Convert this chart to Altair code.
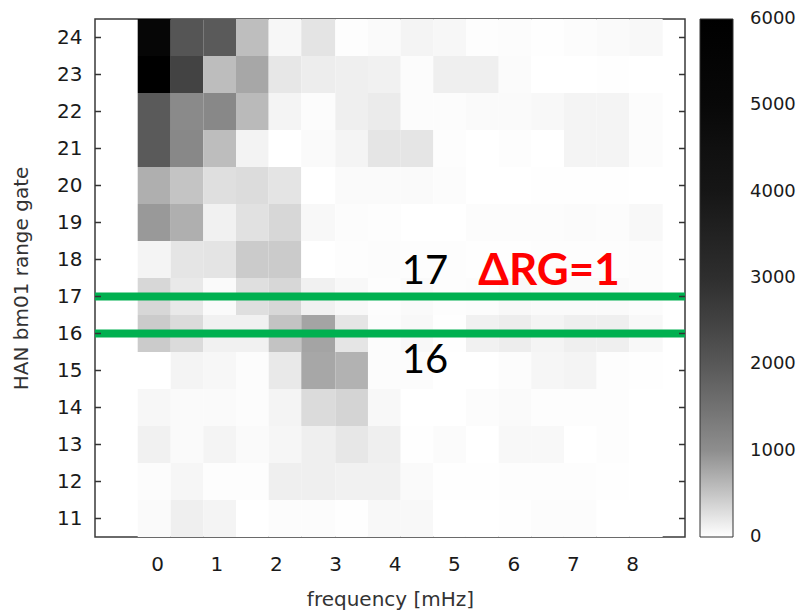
import altair as alt
import pandas as pd

# ---------------- data ----------------
range_gates = [24, 23, 22, 21, 20, 19, 18, 17, 16, 15, 14, 13, 12, 11]
# frequency bin edges [mHz]
freq_edges = [-0.325, 0.231, 0.779, 1.330, 1.880, 2.429, 3.002, 3.552, 4.103,
              4.652, 5.202, 5.753, 6.301, 6.852, 7.402, 7.951, 8.514]

rg24 = [5200, 2070, 1960, 560, 70, 230, 20, 45, 90, 70, 20, 25, 10, 25, 45, 60]
rg23 = [6000, 2480, 575, 770, 205, 150, 135, 115, 25, 135, 135, 35, 0, 0, 10, 0]
rg22 = [1960, 1075, 1110, 595, 90, 25, 135, 170, 25, 25, 45, 45, 60, 90, 90, 25]
rg21 = [1960, 1110, 575, 105, 0, 45, 90, 220, 220, 20, 0, 20, 0, 90, 90, 25]
rg20 = [700, 505, 275, 300, 230, 0, 45, 45, 45, 25, 0, 0, 10, 10, 10, 0]
rg19 = [895, 700, 115, 255, 345, 60, 25, 20, 0, 0, 25, 25, 25, 35, 25, 60]
rg18 = [90, 220, 230, 450, 450, 0, 20, 25, 20, 20, 10, 10, 20, 20, 20, 25]
rg17 = [345, 185, 45, 275, 345, 115, 60, 20, 45, 20, 25, 60, 45, 45, 45, 25]
rg16 = [450, 310, 115, 115, 520, 800, 220, 25, 60, 10, 115, 150, 95, 135, 135, 60]
rg15 = [0, 90, 70, 25, 185, 770, 665, 25, 25, 0, 0, 25, 80, 90, 20, 10]
rg14 = [70, 45, 45, 25, 90, 310, 365, 60, 0, 0, 25, 45, 20, 20, 20, 0]
rg13 = [115, 45, 90, 45, 80, 135, 205, 135, 10, 35, 0, 60, 55, 0, 20, 0]
rg12 = [25, 80, 20, 20, 135, 135, 115, 115, 45, 10, 10, 20, 20, 20, 10, 0]
rg11 = [45, 135, 90, 0, 25, 25, 10, 60, 60, 0, 0, 10, 25, 25, 0, 0]

rows = [rg24, rg23, rg22, rg21, rg20, rg19, rg18, rg17, rg16, rg15, rg14, rg13, rg12, rg11]

colorbar_values = [0, 1000, 2000, 3000, 4000, 5000, 6000]
colorbar_grays = ["#ffffff", "#8e8e8e", "#585858", "#2e2e2e", "#161616", "#080808", "#000000"]

x_ticks = [0, 1, 2, 3, 4, 5, 6, 7, 8]
marked_gates = [16, 17]

ann_black_text = ["17", "16"]
ann_black_freq = [4.12, 4.12]
ann_black_rg = [17.35, 14.93]
ann_red_text = ["\u0394RG=1"]
ann_red_freq = [5.41]
ann_red_rg = [17.30]

# ---------------- tables ----------------
recs = []
for rg, vals in zip(range_gates, rows):
    for k, v in enumerate(vals):
        recs.append({"f0": freq_edges[k], "f1": freq_edges[k + 1],
                     "g0": rg - 0.5, "g1": rg + 0.5, "power": v})
df = pd.DataFrame(recs)

W, H = 590, 518
XT = "frequency [mHz]"
YT = "HAN bm01 range gate"
xs = alt.Scale(domain=[-1.044, 8.89], nice=False, zero=False)
ys = alt.Scale(domain=[10.5, 24.5], nice=False, zero=False)
cs = alt.Scale(domain=colorbar_values, range=colorbar_grays, clamp=True)
cbs = alt.Scale(domain=[colorbar_values[0], colorbar_values[-1]], nice=False, zero=False)

FONT = "DejaVu Sans"
CB_X = W + 15      # colour bar left edge (px in plot coords)
CB_T = 33          # colour bar thickness

xaxis = alt.Axis(values=x_ticks, format="d", title=XT, ticks=False, domain=False,
                 grid=False, labelPadding=17, titleX=W / 2, titleY=68, titleAlign="center",
                 titleBaseline="alphabetic")
yaxis = alt.Axis(values=range_gates, format="d", title=YT, ticks=False,
                 domain=False, grid=False, labelPadding=13, titleX=-74, titleY=H / 2,
                 titleAlign="center", titleBaseline="middle", titleAngle=270)

heat = alt.Chart(df).mark_rect().encode(
    x=alt.X("f0:Q", scale=xs, axis=xaxis, title=XT),
    x2="f1:Q",
    y=alt.Y("g0:Q", scale=ys, axis=yaxis, title=YT),
    y2="g1:Q",
    fill=alt.Fill("power:Q", scale=cs, legend=alt.Legend(
        orient="none", legendX=CB_X, legendY=0, direction="vertical",
        gradientLength=H, gradientThickness=CB_T, values=[], title=None,
        gradientStrokeColor="#333333", gradientStrokeWidth=1)),
)

gdf = pd.DataFrame({"rg": marked_gates})
green = alt.Chart(gdf).mark_rule(color="#00B050", strokeWidth=8).encode(
    y=alt.Y("rg:Q", scale=ys, axis=None), x=alt.value(0), x2=alt.value(W))

tdf = pd.DataFrame({"rg": range_gates})
ticks_l = alt.Chart(tdf).mark_rule(color="#333333", strokeWidth=1.5).encode(
    y=alt.Y("rg:Q", scale=ys, axis=None), x=alt.value(0), x2=alt.value(6))
ticks_r = alt.Chart(tdf).mark_rule(color="#333333", strokeWidth=1.5).encode(
    y=alt.Y("rg:Q", scale=ys, axis=None), x=alt.value(W - 6), x2=alt.value(W))

bdf = pd.DataFrame({"t": ann_black_text, "f": ann_black_freq, "rg": ann_black_rg})
txt_black = alt.Chart(bdf).mark_text(
    align="left", baseline="alphabetic", font="Lato", fontSize=40, color="#000000"
).encode(x=alt.X("f:Q", scale=xs, title=XT), y=alt.Y("rg:Q", scale=ys, axis=None),
         text="t:N")

rdf = pd.DataFrame({"t": ann_red_text, "f": ann_red_freq, "rg": ann_red_rg})
txt_red = alt.Chart(rdf).mark_text(
    align="left", baseline="alphabetic", font="Lato", fontSize=44, fontWeight="bold",
    color="#FF0000"
).encode(x=alt.X("f:Q", scale=xs, title=XT), y=alt.Y("rg:Q", scale=ys, axis=None),
         text="t:N")

# colour-bar labels and inner tick dashes, placed with their own value scale
cdf = pd.DataFrame({"v": colorbar_values, "lab": [str(v) for v in colorbar_values]})
cb_labels = alt.Chart(cdf).mark_text(
    align="left", baseline="middle", font=FONT, fontSize=18, color="#1a1a1a"
).encode(x=alt.value(CB_X + CB_T + 17), y=alt.Y("v:Q", scale=cbs, axis=None),
         text="lab:N")
cdf_inner = pd.DataFrame({"v": colorbar_values[1:-1]})
cb_tl = alt.Chart(cdf_inner).mark_rule(color="#202020", strokeWidth=1).encode(
    x=alt.value(CB_X + 1), x2=alt.value(CB_X + 9), y=alt.Y("v:Q", scale=cbs, axis=None))
cb_tr = alt.Chart(cdf_inner).mark_rule(color="#202020", strokeWidth=1).encode(
    x=alt.value(CB_X + CB_T - 9), x2=alt.value(CB_X + CB_T - 1),
    y=alt.Y("v:Q", scale=cbs, axis=None))

chart = alt.layer(
    heat, green, ticks_l, ticks_r, txt_black, txt_red, cb_labels, cb_tl, cb_tr
).resolve_scale(y="independent").properties(
    width=W, height=H,
    autosize=alt.AutoSizeParams(type="none"),
    padding={"left": 87, "top": 11, "right": 114, "bottom": 74},
).configure_view(
    stroke="#3a3a3a", strokeWidth=1.5
).configure_axis(
    labelFont=FONT, labelFontSize=20, labelColor="#1a1a1a",
    titleFont=FONT, titleFontSize=20, titleFontWeight="normal", titleColor="#333333"
)

chart.save("out.html", embed_options={"renderer": "svg", "actions": False})
